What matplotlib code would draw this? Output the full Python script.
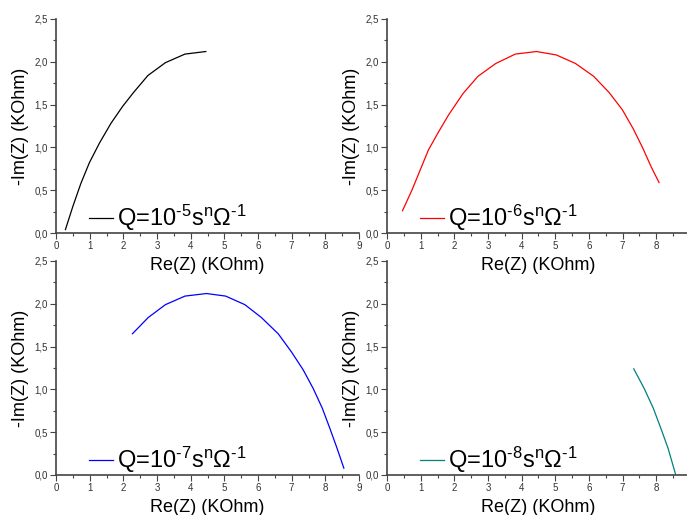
import matplotlib.pyplot as plt
from matplotlib.ticker import MultipleLocator, FixedLocator, FuncFormatter

plt.rcParams['font.family'] = ['Liberation Sans', 'DejaVu Sans']
plt.rcParams['mathtext.fontset'] = 'custom'
plt.rcParams['mathtext.rm'] = 'Liberation Sans'
plt.rcParams['mathtext.it'] = 'Liberation Sans'
plt.rcParams['mathtext.default'] = 'regular'

# ===============================
# Data
# ===============================
x_q5 = [0.28, 0.50, 0.74, 0.99, 1.29, 1.63, 1.98, 2.30, 2.73, 3.25, 3.83, 4.45]
y_q5 = [0.04, 0.31, 0.58, 0.82, 1.05, 1.28, 1.48, 1.64, 1.84, 1.99, 2.09, 2.12]

x_q6 = [0.46, 0.74, 0.99, 1.23, 1.53, 1.83, 2.26, 2.70, 3.23, 3.81, 4.44,
        5.03, 5.60, 6.14, 6.60, 6.99, 7.31, 7.60, 7.85, 8.08]
y_q6 = [0.26, 0.50, 0.74, 0.97, 1.18, 1.38, 1.63, 1.83, 1.98, 2.09, 2.12,
        2.08, 1.98, 1.83, 1.64, 1.44, 1.22, 0.99, 0.77, 0.59]

x_q7 = [2.27, 2.74, 3.25, 3.83, 4.47, 5.04, 5.61, 6.10, 6.60, 6.99, 7.34,
        7.64, 7.91, 8.13, 8.35, 8.55]
y_q7 = [1.65, 1.84, 1.99, 2.09, 2.12, 2.09, 1.99, 1.84, 1.65, 1.44, 1.23,
        1.01, 0.78, 0.55, 0.31, 0.08]

x_q8 = [7.33, 7.64, 7.91, 8.13, 8.35, 8.57]
y_q8 = [1.24, 1.01, 0.78, 0.55, 0.31, 0.01]

series = [
    (x_q5, y_q5, "black", r"Q=10$^{\text{-5}}$s$^{n}$$\Omega^{\text{-1}}$"),
    (x_q6, y_q6, "#ff0000", r"Q=10$^{\text{-6}}$s$^{n}$$\Omega^{\text{-1}}$"),
    (x_q7, y_q7, "#0000ff", r"Q=10$^{\text{-7}}$s$^{n}$$\Omega^{\text{-1}}$"),
    (x_q8, y_q8, "#008080", r"Q=10$^{\text{-8}}$s$^{n}$$\Omega^{\text{-1}}$"),
]

# ===============================
# Figure with 4 panels
# ===============================
fig = plt.figure(figsize=(6.87, 5.15), dpi=100)

W, H = 687, 515
panel_left = [56, 387, 56, 387]
panel_bottom = [233, 233, 475, 475]
pw, ph = 303, 214

comma = FuncFormatter(lambda v, p: f"{v:.1f}".replace(".", ","))

for i, (xs, ys, col, lab) in enumerate(series):
    ax = fig.add_axes([panel_left[i] / W, 1 - panel_bottom[i] / H, pw / W, ph / H])
    ax.patch.set_visible(False)
    ax.plot(xs, ys, color=col, lw=0.9, label=lab)

    ax.set_xlim(0, 9)
    ax.set_ylim(0, 2.5)
    if i % 2 == 0:
        ax.xaxis.set_major_locator(MultipleLocator(1))
    else:
        # right panels: tick 9 falls outside the picture
        ax.xaxis.set_major_locator(FixedLocator(range(0, 9)))
    ax.xaxis.set_minor_locator(MultipleLocator(0.5))
    ax.yaxis.set_major_locator(MultipleLocator(0.5))
    ax.yaxis.set_minor_locator(MultipleLocator(0.25))
    ax.yaxis.set_major_formatter(comma)

    for s in ["top", "right"]:
        ax.spines[s].set_visible(False)
    for s in ["left", "bottom"]:
        ax.spines[s].set_color("#444444")
        ax.spines[s].set_linewidth(1.2)

    ax.tick_params(which="major", direction="out", length=4, width=0.8,
                   color="#444444", labelsize=7, labelcolor="#333333", pad=2)
    ax.tick_params(which="minor", direction="out", length=2.5, width=0.8,
                   color="#444444")

    ax.set_xlabel("Re(Z) (KOhm)", fontsize=13, labelpad=4)
    ax.set_ylabel("-Im(Z) (KOhm)", fontsize=13, labelpad=4)

    ax.legend(loc="lower left", bbox_to_anchor=(0.04, -0.1), frameon=False,
              fontsize=17, handlelength=1.0, handletextpad=0.15)

fig.savefig("out.png", dpi=100)
